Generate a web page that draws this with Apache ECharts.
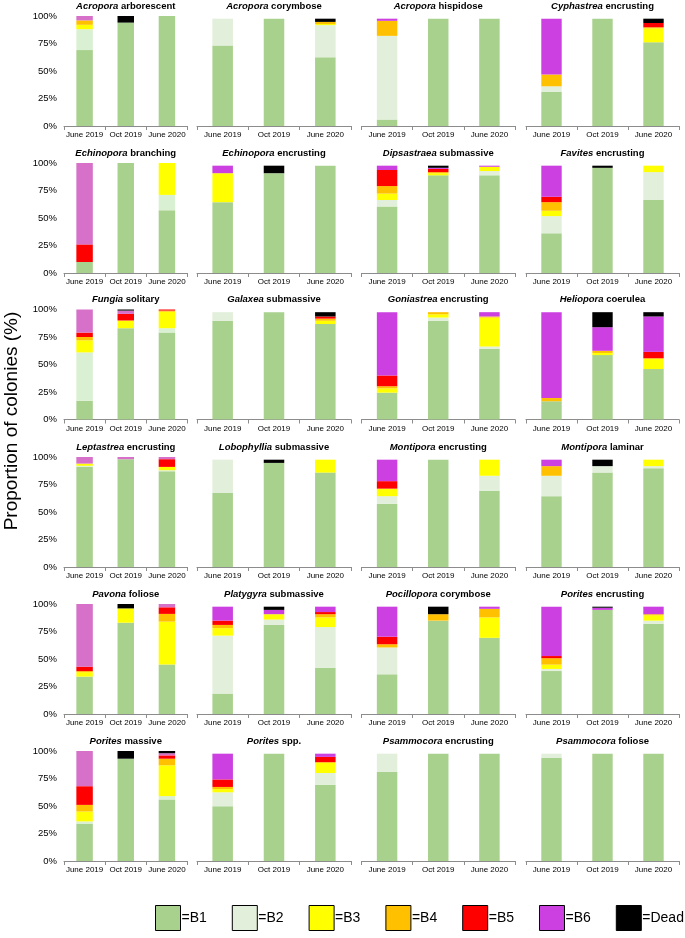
<!DOCTYPE html>
<html><head><meta charset="utf-8">
<script src="https://cdn.jsdelivr.net/npm/echarts@6/dist/echarts.min.js"></script>
<style>html,body{margin:0;padding:0;background:#fff}#c{width:685px;height:938px}</style>
</head><body><div id="c"></div>
<script>
// ---- data ----
const periods = ['June 2019', 'Oct 2019', 'June 2020'];
const classes = ['B1', 'B2', 'B3', 'B4', 'B5', 'B6', 'Dead'];
const yTicks = ['0%', '25%', '50%', '75%', '100%'];

// each row: one period, values in order B1,B2,B3,B4,B5,B6,Dead (%)
const acroporaArborescent = [[69,19,4,4,0,4,0],[94,0,0,0,0,0,6],[100,0,0,0,0,0,0]];
const acroporaCorymbose   = [[75,25,0,0,0,0,0],[100,0,0,0,0,0,0],[64,30,1,2,0,0,3]];
const acroporaHispidose   = [[6,78,0,14,0,2,0],[100,0,0,0,0,0,0],[100,0,0,0,0,0,0]];
const cyphastreaEncrust   = [[32,5,0,11,0,52,0],[100,0,0,0,0,0,0],[78,0,13,1,4,0,4]];
const echinoporaBranch    = [[10,0,0,0,16,74,0],[100,0,0,0,0,0,0],[57,14,29,0,0,0,0]];
const echinoporaEncrust   = [[66,0,27,0,0,7,0],[93,0,0,0,0,0,7],[100,0,0,0,0,0,0]];
const dipsastraeaSubm     = [[62,6,6,7,15,4,0],[91,0,2,1,3,1,2],[91,4,4,0,0,1,0]];
const favitesEncrust      = [[37,16,5,8,5,29,0],[98,0,0,0,0,0,2],[68,26,6,0,0,0,0]];
const fungiaSolitary      = [[17,44,11,3,4,21,0],[83,0,7,0,6,3,1],[79,4,15,1,1,0,0]];
const galaxeaSubm         = [[92,8,0,0,0,0,0],[100,0,0,0,0,0,0],[89,0,3,2,2,0,4]];
const goniastreaEncrust   = [[25,0,4,2,10,59,0],[92,3,3,2,0,0,0],[66,2,27,1,0,4,0]];
const helioporaCoerulea   = [[17,0,0,3,0,80,0],[60,0,2,2,0,22,14],[47,0,10,0,6,33,4]];
const leptastreaEncrust   = [[91,1,2,0,0,6,0],[98,0,0,0,0,2,0],[87,1,3,0,7,2,0]];
const lobophylliaSubm     = [[69,31,0,0,0,0,0],[97,0,0,0,0,0,3],[88,0,12,0,0,0,0]];
const montiporaEncrust    = [[59,7,7,0,7,20,0],[100,0,0,0,0,0,0],[71,14,15,0,0,0,0]];
const montiporaLaminar    = [[66,19,0,9,0,6,0],[88,6,0,0,0,0,6],[92,2,6,0,0,0,0]];
const pavonaFoliose       = [[34,0,4,1,4,57,0],[83,0,13,0,0,0,4],[45,0,39,7,6,3,0]];
const platygyraSubm       = [[19,54,7,3,4,13,0],[83,5,5,0,0,4,3],[43,38,9,3,2,5,0]];
const pocilloporaCorymb   = [[37,25,0,3,7,28,0],[87,0,0,6,0,0,7],[71,0,19,8,0,2,0]];
const poritesEncrust      = [[40,2,4,6,2,46,0],[97,0,0,0,0,2,1],[84,3,5,1,0,7,0]];
const poritesMassive      = [[34,2,9,6,17,32,0],[93,0,0,0,0,0,7],[56,3,28,6,3,2,2]];
const poritesSpp          = [[51,13,3,2,7,24,0],[100,0,0,0,0,0,0],[71,11,10,0,5,3,0]];
const psammocoraEncrust   = [[83,17,0,0,0,0,0],[100,0,0,0,0,0,0],[100,0,0,0,0,0,0]];
const psammocoraFoliose   = [[96,4,0,0,0,0,0],[100,0,0,0,0,0,0],[100,0,0,0,0,0,0]];

const genusNames = ['Acropora','Acropora','Acropora','Cyphastrea','Echinopora','Echinopora','Dipsastraea','Favites',
  'Fungia','Galaxea','Goniastrea','Heliopora','Leptastrea','Lobophyllia','Montipora','Montipora',
  'Pavona','Platygyra','Pocillopora','Porites','Porites','Porites','Psammocora','Psammocora'];
const formNames = ['arborescent','corymbose','hispidose','encrusting','branching','encrusting','submassive','encrusting',
  'solitary','submassive','encrusting','coerulea','encrusting','submassive','encrusting','laminar',
  'foliose','submassive','corymbose','encrusting','massive','spp.','encrusting','foliose'];
const panelData = [acroporaArborescent, acroporaCorymbose, acroporaHispidose, cyphastreaEncrust,
  echinoporaBranch, echinoporaEncrust, dipsastraeaSubm, favitesEncrust,
  fungiaSolitary, galaxeaSubm, goniastreaEncrust, helioporaCoerulea,
  leptastreaEncrust, lobophylliaSubm, montiporaEncrust, montiporaLaminar,
  pavonaFoliose, platygyraSubm, pocilloporaCorymb, poritesEncrust,
  poritesMassive, poritesSpp, psammocoraEncrust, psammocoraFoliose];

// ---- layout / style ----
const FONT = 'Liberation Sans, Arial, sans-serif';
const colors = {B1:'#a9d18e', B2:'#e2efda', B3:'#ffff00', B4:'#ffc000', B5:'#ff0000', B6:'#cc3fe0', Dead:'#000000'};
const b6Col1 = '#d670c8';
const b2Col1 = '#daf0d2';
const colLeft = [64, 197, 361.5, 526];
const colWidth = [123.5, 154, 153.5, 153];
const rowTop = [16, 163, 309.5, 457, 604, 751];
const plotH = 110;

const grids = [], xAxes = [], yAxes = [], titles = [], series = [];
panelData.forEach((pd, i) => {
  const r = Math.floor(i / 4), c = i % 4;
  grids.push({left: colLeft[c], top: rowTop[r], width: colWidth[c], height: plotH, containLabel: false});
  xAxes.push({
    type: 'category', gridIndex: i, data: periods,
    axisLine: {lineStyle: {color: '#8c8c8c', width: 1}},
    axisTick: {show: true, length: 4, lineStyle: {color: '#8c8c8c'}},
    axisLabel: {fontSize: 8, margin: 5, color: '#000', interval: 0, fontFamily: FONT}
  });
  yAxes.push({
    type: 'value', gridIndex: i, min: 0, max: c === 0 ? 100 : 102.5,
    interval: 25,
    splitLine: {show: false}, axisLine: {show: false}, axisTick: {show: false},
    axisLabel: {show: c === 0, fontSize: 9.5, margin: 7, color: '#000', fontFamily: FONT,
      formatter: v => yTicks[Math.round(v / 25)] || ''}
  });
  titles.push({
    text: '{i|' + genusNames[i] + '}{b| ' + formNames[i] + '}',
    left: colLeft[c] + colWidth[c] / 2, top: rowTop[r] - 15, textAlign: 'center',
    padding: 0,
    textStyle: {fontSize: 9.5, rich: {
      i: {fontSize: 9.5, fontWeight: 'bold', fontStyle: 'italic', color: '#000', fontFamily: FONT},
      b: {fontSize: 9.5, fontWeight: 'bold', color: '#000', fontFamily: FONT}
    }}
  });
  classes.forEach((cl, k) => {
    let col = colors[cl];
    if (c === 0 && cl === 'B6') col = b6Col1;
    if (c === 0 && cl === 'B2') col = b2Col1;
    series.push({
      name: cl, type: 'bar', stack: 'p' + i, xAxisIndex: i, yAxisIndex: i,
      barWidth: '40%',
      itemStyle: {color: col},
      data: pd.map(row => row[k])
    });
  });
});

const chart = echarts.init(document.getElementById('c'), null, {renderer: 'canvas'});
chart.setOption({
  animation: false,
  backgroundColor: '#fff',
  textStyle: {fontFamily: FONT},
  title: titles,
  grid: grids, xAxis: xAxes, yAxis: yAxes, series: series,
  legend: {
    left: 155, top: 905, width: 640, padding: 0, itemWidth: 25, itemHeight: 25, itemGap: 25,
    icon: 'rect',
    itemStyle: {borderColor: '#000', borderWidth: 1},
    textStyle: {fontSize: 14, color: '#000', fontFamily: FONT, padding: [0, 0, 0, -4]},
    formatter: n => '=' + n,
    selectedMode: false,
    data: classes.map(cl => ({name: cl, itemStyle: {color: colors[cl], borderColor: '#000', borderWidth: 1}}))
  },
  graphic: [{
    type: 'text', x: 12, y: 421, rotation: Math.PI / 2,
    style: {text: 'Proportion of colonies (%)', fontSize: 19, fill: '#000', fontFamily: FONT,
      align: 'center', verticalAlign: 'middle'}
  }]
});
</script>
</body></html>
